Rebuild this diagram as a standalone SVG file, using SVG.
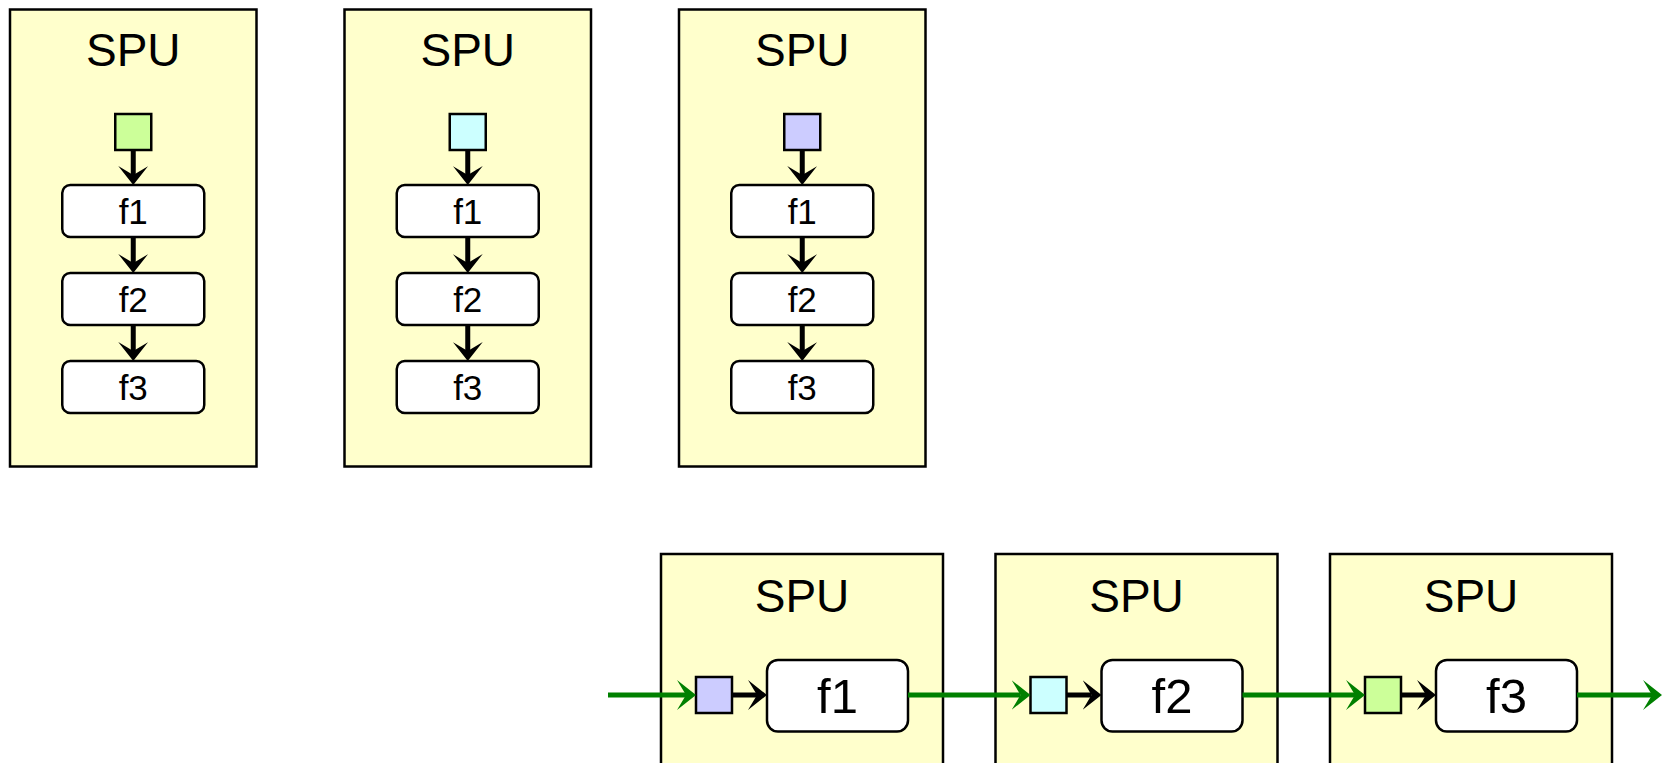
<svg xmlns="http://www.w3.org/2000/svg" width="1662" height="763" viewBox="0 0 1662 763">
<style>
.spu{fill:#FFFFCC;stroke:#000;stroke-width:2.5}
.fn{fill:#fff;stroke:#000;stroke-width:2.5}
.sq{stroke:#000;stroke-width:2.5}
.g{fill:#CCFF99}.c{fill:#CCFFFF}.p{fill:#CCCCFF}
.t{font-family:"Liberation Sans",Arial,sans-serif;fill:#000;text-anchor:middle}
.title{font-size:46px}
.fs{font-size:35px}
.fb{font-size:49px}
.blk{stroke:#000;stroke-width:5;fill:none}
.grn{stroke:#008000;stroke-width:5;fill:none}
</style>
<defs>
<marker id="ab" markerUnits="userSpaceOnUse" viewBox="0 0 19 30" refX="9" refY="15" markerWidth="19" markerHeight="30" orient="auto">
<path d="M19,15 L0,0 L9,15 L0,30 Z" fill="#000"/>
</marker>
<marker id="ag" markerUnits="userSpaceOnUse" viewBox="0 0 19 30" refX="9" refY="15" markerWidth="19" markerHeight="30" orient="auto">
<path d="M19,15 L0,0 L9,15 L0,30 Z" fill="#008000"/>
</marker>
</defs>

<g id="spu-top-1">
<rect class="spu" x="10" y="9.5" width="246.5" height="457"/>
<text class="t title" x="133.25" y="66">SPU</text>
<rect class="sq g" x="115.25" y="114" width="36" height="36"/>
<rect class="fn" x="62.25" y="185" width="142" height="52" rx="8"/>
<text class="t fs" x="133.25" y="224">f1</text>
<rect class="fn" x="62.25" y="273" width="142" height="52" rx="8"/>
<text class="t fs" x="133.25" y="312">f2</text>
<rect class="fn" x="62.25" y="361" width="142" height="52" rx="8"/>
<text class="t fs" x="133.25" y="400">f3</text>
</g>

<g id="spu-top-2">
<rect class="spu" x="344.5" y="9.5" width="246.5" height="457"/>
<text class="t title" x="467.75" y="66">SPU</text>
<rect class="sq c" x="449.75" y="114" width="36" height="36"/>
<rect class="fn" x="396.75" y="185" width="142" height="52" rx="8"/>
<text class="t fs" x="467.75" y="224">f1</text>
<rect class="fn" x="396.75" y="273" width="142" height="52" rx="8"/>
<text class="t fs" x="467.75" y="312">f2</text>
<rect class="fn" x="396.75" y="361" width="142" height="52" rx="8"/>
<text class="t fs" x="467.75" y="400">f3</text>
</g>

<g id="spu-top-3">
<rect class="spu" x="679" y="9.5" width="246.5" height="457"/>
<text class="t title" x="802.25" y="66">SPU</text>
<rect class="sq p" x="784.25" y="114" width="36" height="36"/>
<rect class="fn" x="731.25" y="185" width="142" height="52" rx="8"/>
<text class="t fs" x="802.25" y="224">f1</text>
<rect class="fn" x="731.25" y="273" width="142" height="52" rx="8"/>
<text class="t fs" x="802.25" y="312">f2</text>
<rect class="fn" x="731.25" y="361" width="142" height="52" rx="8"/>
<text class="t fs" x="802.25" y="400">f3</text>
</g>

<g id="spu-bottom-1">
<rect class="spu" x="661" y="554" width="282" height="260"/>
<text class="t title" x="802" y="612">SPU</text>
<rect class="sq p" x="696" y="677" width="36" height="36"/>
<rect class="fn" x="767" y="660" width="141" height="71.5" rx="11"/>
<text class="t fb" x="837.5" y="713">f1</text>
</g>

<g id="spu-bottom-2">
<rect class="spu" x="995.5" y="554" width="282" height="260"/>
<text class="t title" x="1136.5" y="612">SPU</text>
<rect class="sq c" x="1030.5" y="677" width="36" height="36"/>
<rect class="fn" x="1101.5" y="660" width="141" height="71.5" rx="11"/>
<text class="t fb" x="1172" y="713">f2</text>
</g>

<g id="spu-bottom-3">
<rect class="spu" x="1330" y="554" width="282" height="260"/>
<text class="t title" x="1471" y="612">SPU</text>
<rect class="sq g" x="1365" y="677" width="36" height="36"/>
<rect class="fn" x="1436" y="660" width="141" height="71.5" rx="11"/>
<text class="t fb" x="1506.5" y="713">f3</text>
</g>

<g id="connectors">
<line class="blk" x1="133.25" y1="150" x2="133.25" y2="175" marker-end="url(#ab)"/>
<line class="blk" x1="133.25" y1="237" x2="133.25" y2="263" marker-end="url(#ab)"/>
<line class="blk" x1="133.25" y1="325" x2="133.25" y2="351" marker-end="url(#ab)"/>
<line class="blk" x1="467.75" y1="150" x2="467.75" y2="175" marker-end="url(#ab)"/>
<line class="blk" x1="467.75" y1="237" x2="467.75" y2="263" marker-end="url(#ab)"/>
<line class="blk" x1="467.75" y1="325" x2="467.75" y2="351" marker-end="url(#ab)"/>
<line class="blk" x1="802.25" y1="150" x2="802.25" y2="175" marker-end="url(#ab)"/>
<line class="blk" x1="802.25" y1="237" x2="802.25" y2="263" marker-end="url(#ab)"/>
<line class="blk" x1="802.25" y1="325" x2="802.25" y2="351" marker-end="url(#ab)"/>

<line class="grn" x1="608" y1="695" x2="686" y2="695" marker-end="url(#ag)"/>
<line class="blk" x1="732" y1="695" x2="757" y2="695" marker-end="url(#ab)"/>
<line class="grn" x1="908" y1="695" x2="1020.5" y2="695" marker-end="url(#ag)"/>
<line class="blk" x1="1066.5" y1="695" x2="1091.5" y2="695" marker-end="url(#ab)"/>
<line class="grn" x1="1242.5" y1="695" x2="1355" y2="695" marker-end="url(#ag)"/>
<line class="blk" x1="1401" y1="695" x2="1426" y2="695" marker-end="url(#ab)"/>
<line class="grn" x1="1577" y1="695" x2="1652" y2="695" marker-end="url(#ag)"/>
</g>
</svg>
